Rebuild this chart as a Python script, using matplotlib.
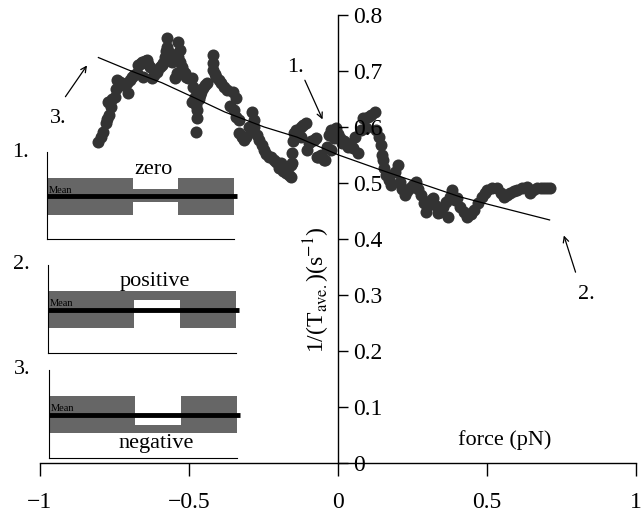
import numpy as np
import matplotlib.pyplot as plt
from matplotlib.patches import Rectangle

plt.rcParams['font.family'] = ['Liberation Serif', 'DejaVu Serif']
plt.rcParams['mathtext.fontset'] = 'stix'

force = [-0.804, -0.795, -0.787, -0.780, -0.775, -0.770, -0.763, -0.773, -0.760, -0.747,
         -0.745, -0.740, -0.732, -0.724, -0.715, -0.707, -0.704, -0.698, -0.691, -0.683,
         -0.674, -0.671, -0.664, -0.657, -0.654, -0.648, -0.641, -0.636, -0.631, -0.624,
         -0.616, -0.607, -0.597, -0.592, -0.587, -0.581, -0.578, -0.574, -0.574, -0.564,
         -0.557, -0.547, -0.541, -0.537, -0.531, -0.537, -0.530, -0.524, -0.519, -0.514,
         -0.509, -0.504, -0.491, -0.486, -0.481, -0.491, -0.478, -0.474, -0.474, -0.478,
         -0.468, -0.464, -0.459, -0.454, -0.446, -0.438, -0.421, -0.421, -0.421, -0.414,
         -0.408, -0.398, -0.391, -0.381, -0.371, -0.354, -0.364, -0.341, -0.350, -0.341,
         -0.331, -0.331, -0.322, -0.314, -0.308, -0.298, -0.288, -0.281, -0.281, -0.288,
         -0.272, -0.265, -0.256, -0.248, -0.240, -0.231, -0.225, -0.215, -0.208, -0.191,
         -0.198, -0.185, -0.175, -0.165, -0.158, -0.155, -0.158, -0.155, -0.150, -0.148,
         -0.141, -0.133, -0.125, -0.125, -0.116, -0.108, -0.098, -0.105, -0.090, -0.082,
         -0.075, -0.072, -0.066, -0.057, -0.048, -0.042, -0.038, -0.030, -0.025, -0.025,
         -0.015, -0.008, 0.000, 0.008, 0.012, 0.020, 0.028, 0.035, 0.044, 0.052,
         0.058, 0.068, 0.078, 0.085, 0.095, 0.101, 0.112, 0.125, 0.128, 0.136,
         0.145, 0.148, 0.151, 0.156, 0.161, 0.170, 0.178, 0.190, 0.201, 0.208,
         0.215, 0.225, 0.233, 0.241, 0.251, 0.261, 0.270, 0.278, 0.287, 0.295,
         0.303, 0.311, 0.318, 0.326, 0.334, 0.341, 0.351, 0.361, 0.368, 0.375,
         0.384, 0.391, 0.401, 0.411, 0.422, 0.434, 0.446, 0.458, 0.471, 0.484,
         0.492, 0.501, 0.517, 0.534, 0.546, 0.557, 0.567, 0.577, 0.589, 0.601,
         0.617, 0.634, 0.644, 0.656, 0.668, 0.680, 0.691, 0.700, 0.710]
rate = [0.573, 0.582, 0.591, 0.607, 0.614, 0.621, 0.636, 0.645, 0.650, 0.654,
        0.668, 0.684, 0.680, 0.675, 0.677, 0.679, 0.661, 0.684, 0.689, 0.692,
        0.696, 0.711, 0.713, 0.716, 0.689, 0.718, 0.720, 0.713, 0.707, 0.688,
        0.693, 0.698, 0.707, 0.711, 0.714, 0.725, 0.735, 0.743, 0.759, 0.732,
        0.716, 0.688, 0.696, 0.752, 0.738, 0.725, 0.716, 0.707, 0.700, 0.696,
        0.690, 0.688, 0.688, 0.672, 0.654, 0.645, 0.640, 0.630, 0.616, 0.591,
        0.650, 0.657, 0.663, 0.670, 0.675, 0.679, 0.729, 0.714, 0.702, 0.695,
        0.689, 0.684, 0.679, 0.672, 0.666, 0.663, 0.638, 0.652, 0.630, 0.618,
        0.613, 0.589, 0.583, 0.577, 0.582, 0.600, 0.627, 0.613, 0.600, 0.595,
        0.585, 0.577, 0.568, 0.559, 0.552, 0.546, 0.546, 0.541, 0.538, 0.536,
        0.527, 0.522, 0.518, 0.514, 0.511, 0.536, 0.532, 0.554, 0.575, 0.589,
        0.595, 0.592, 0.582, 0.600, 0.603, 0.607, 0.571, 0.559, 0.575, 0.577,
        0.580, 0.546, 0.546, 0.550, 0.541, 0.541, 0.564, 0.585, 0.595, 0.559,
        0.580, 0.598, 0.588, 0.580, 0.571, 0.575, 0.571, 0.564, 0.566, 0.563,
        0.582, 0.554, 0.595, 0.616, 0.598, 0.618, 0.622, 0.627, 0.595, 0.582,
        0.568, 0.550, 0.541, 0.527, 0.514, 0.505, 0.496, 0.520, 0.532, 0.502,
        0.490, 0.479, 0.485, 0.491, 0.497, 0.502, 0.490, 0.479, 0.465, 0.448,
        0.460, 0.470, 0.473, 0.460, 0.446, 0.448, 0.457, 0.466, 0.439, 0.475,
        0.488, 0.470, 0.473, 0.457, 0.448, 0.439, 0.445, 0.452, 0.465, 0.475,
        0.482, 0.488, 0.491, 0.491, 0.482, 0.475, 0.479, 0.482, 0.485, 0.488,
        0.491, 0.493, 0.482, 0.488, 0.491, 0.491, 0.491, 0.491, 0.491]

# trend line through the data
fit_force = [-0.804, -0.704, -0.591, -0.481, -0.381, -0.248, -0.138, 0.002, 0.145, 0.411, 0.511, 0.710]
fit_rate = [0.724, 0.702, 0.679, 0.652, 0.627, 0.600, 0.582, 0.550, 0.523, 0.475, 0.461, 0.434]

x_ticks = [-1, -0.5, 0, 0.5, 1]
x_ticklabels = ['\u22121', '\u22120.5', '0', '0.5', '1']
y_ticks = [0, 0.1, 0.2, 0.3, 0.4, 0.5, 0.6, 0.7, 0.8]

# sketches of the three cases: (number, label, middle band low, middle band high)
cases = [('1.', 'zero', 0.43, 0.57),
         ('2.', 'positive', 0.60, 0.70),
         ('3.', 'negative', 0.28, 0.37)]

fig = plt.figure(figsize=(6.41, 5.15), dpi=100)
ax = fig.add_axes([0.0624, 0.1010, 0.9298, 0.8699])

ax.scatter(force, rate, s=75, color='#333333', linewidths=0, zorder=1)
ax.plot(fit_force, fit_rate, color='black', lw=0.9, zorder=2)

ax.set_xlim(-1, 1)
ax.set_ylim(0, 0.8)
ax.spines['top'].set_visible(False)
ax.spines['left'].set_visible(False)
ax.spines['right'].set_position(('data', 0))
ax.spines['bottom'].set_position(('data', 0))
ax.yaxis.tick_right()
ax.set_xticks(x_ticks)
ax.set_xticklabels(x_ticklabels)
ax.set_yticks(y_ticks)
ax.set_yticklabels(['0', '0.1', '0.2', '0.3', '0.4', '0.5', '0.6', '0.7', '0.8'])
ax.tick_params(axis='x', direction='out', length=9, width=1, labelsize=17, pad=12)
ax.tick_params(axis='y', direction='out', length=7, width=1, labelsize=17, pad=4)
for s in ax.spines.values():
    s.set_linewidth(1)

ax.text(-0.07, 0.31, r'1/(T$_{\mathrm{ave.}}$)(s$^{-1}$)', rotation=90,
        ha='center', va='center', fontsize=17)
ax.text(0.56, 0.041, 'force (pN)', ha='center', va='center', fontsize=16)

# numbered arrows
arrow = dict(arrowstyle='->', color='black', lw=0.9)
ax.annotate('', xy=(-0.048, 0.609), xytext=(-0.115, 0.688), arrowprops=arrow)
ax.text(-0.141, 0.707, '1.', ha='center', va='center', fontsize=16)
ax.annotate('', xy=(0.755, 0.411), xytext=(0.800, 0.336), arrowprops=arrow)
ax.text(0.834, 0.300, '2.', ha='center', va='center', fontsize=16)
ax.annotate('', xy=(-0.837, 0.714), xytext=(-0.920, 0.650), arrowprops=arrow)
ax.text(-0.940, 0.615, '3.', ha='center', va='center', fontsize=16)

# insets
inset_pos = [[0.0733, 0.5359, 0.2917, 0.1689],
             [0.0749, 0.3146, 0.2933, 0.1709],
             [0.0764, 0.1107, 0.2933, 0.1709]]
label_y = [0.80, 0.81, 0.16]
for (num, name, lo, hi), pos, ly in zip(cases, inset_pos, label_y):
    ia = fig.add_axes(pos)
    ia.set_xlim(0, 1)
    ia.set_ylim(0, 1)
    ia.set_xticks([])
    ia.set_yticks([])
    ia.spines['top'].set_visible(False)
    ia.spines['right'].set_visible(False)
    ia.patch.set_alpha(0)
    ia.add_patch(Rectangle((0, 0.28), 0.46, 0.42, color='#666666', lw=0))
    ia.add_patch(Rectangle((0.70, 0.28), 0.30, 0.42, color='#666666', lw=0))
    ia.add_patch(Rectangle((0.46, lo), 0.24, hi - lo, color='#666666', lw=0))
    ia.plot([0, 1.015], [0.49, 0.49], color='black', lw=3.5, clip_on=False,
            solid_capstyle='butt')
    ia.text(0.01, 0.51, 'Mean', fontsize=7.5, ha='left', va='bottom')
    ia.text(0.57, ly, name, fontsize=16, ha='center', va='center')
    ia.text(-0.14, 1.0, num, fontsize=16, ha='center', va='center')

fig.savefig('out.png', dpi=100)
